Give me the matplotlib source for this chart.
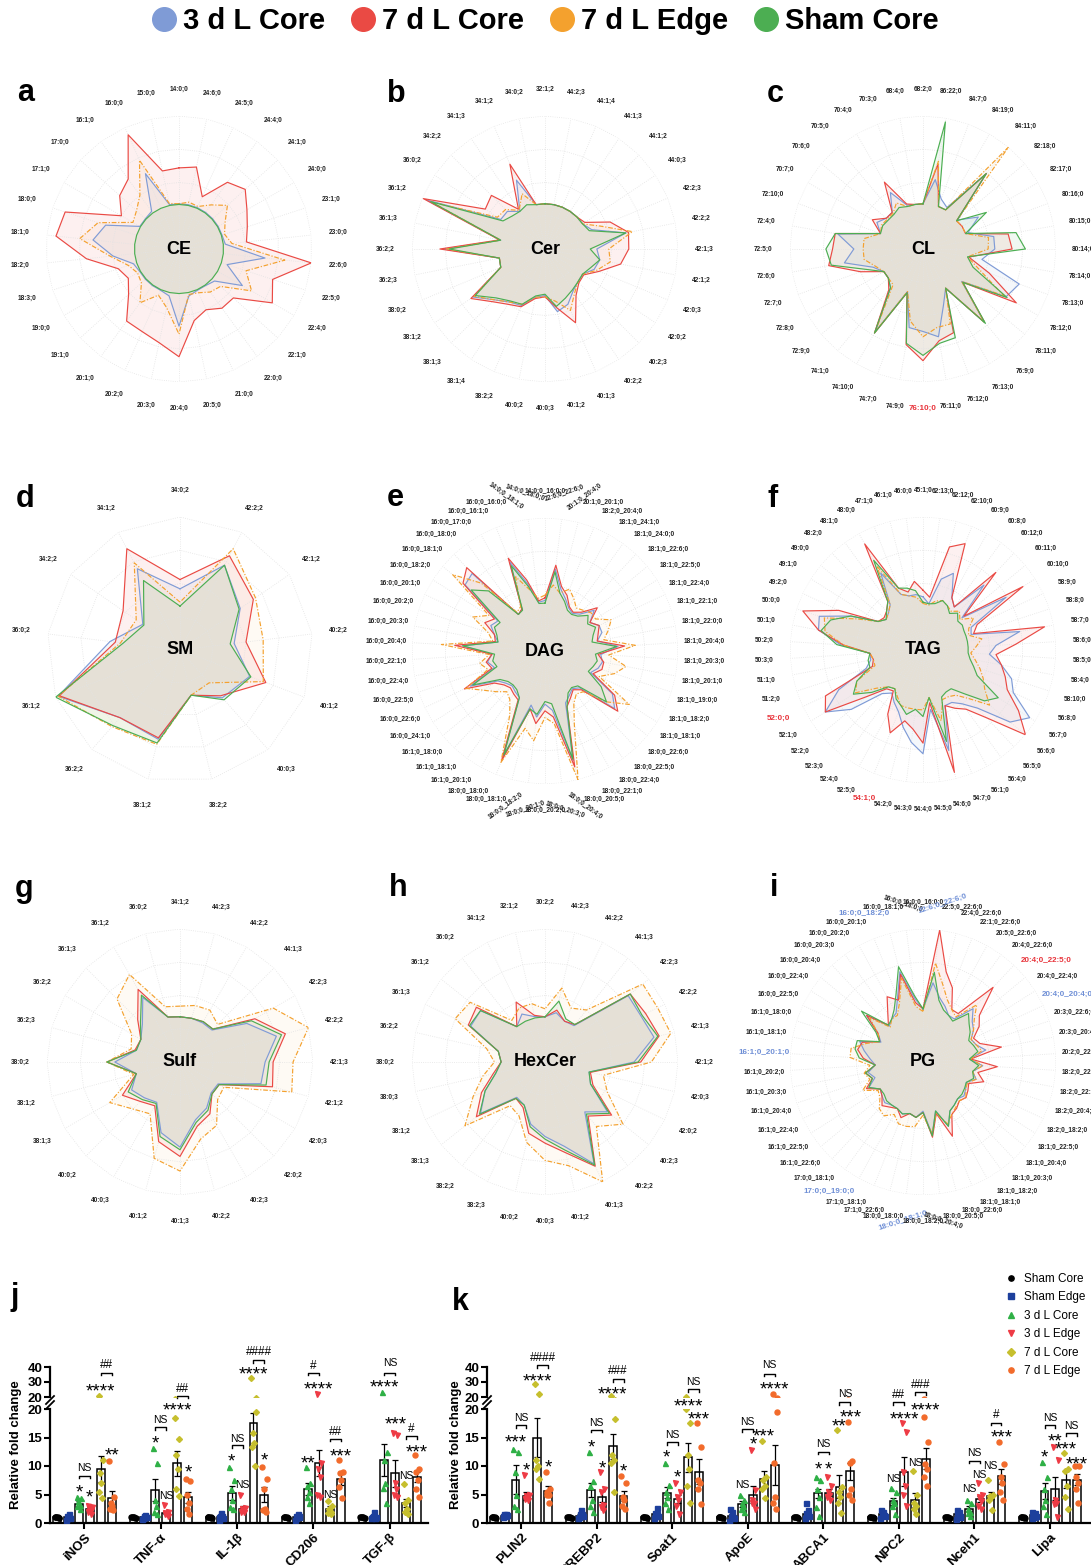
import numpy as np
import matplotlib.pyplot as plt
from matplotlib.lines import Line2D
from matplotlib.transforms import offset_copy

plt.rcParams['font.family'] = ['Liberation Sans', 'DejaVu Sans']

W, H = 1091, 1565

# ---------------- radar data ----------------
radar_names = ['3 d L Core', '7 d L Core', '7 d L Edge', 'Sham Core']
radar_colors = ['#7f9bd6', '#ea4a44', '#f4a12e', '#4cae52']
radar_styles = ['-', '-', (0, (4, 1.5, 1, 1.5)), '-']
radar_alpha = [0.08, 0.08, 0.05, 0.08]

CE_labels = ['14:0;0', '15:0;0', '16:0;0', '16:1;0', '17:0;0', '17:1;0', '18:0;0', '18:1;0', '18:2;0', '18:3;0',
             '19:0;0', '19:1;0', '20:1;0', '20:2;0', '20:3;0', '20:4;0', '20:5;0', '21:0;0', '22:0;0', '22:1;0',
             '22:4;0', '22:5;0', '22:6;0', '23:0;0', '23:1;0', '24:0;0', '24:1;0', '24:4;0', '24:5;0', '24:6;0']
CE_3dLC = [.34, .34, .62, .35, .34, .34, .58, .65, .50, .36, .34, .34, .34, .34, .36, .58, .36, .34, .34, .36,
           .55, .38, .65, .35, .34, .34, .34, .34, .34, .34]
CE_7dLC = [.61, .60, .94, .65, .60, .50, .90, .93, .70, .48, .44, .51, .67, .68, .72, .81, .55, .50, .55, .55,
           .81, .74, 1.0, .51, .54, .59, .67, .62, .43, .63]
CE_7dLE = [.34, .35, .73, .50, .43, .40, .64, .75, .52, .40, .36, .38, .50, .38, .45, .64, .35, .36, .40, .42,
           .63, .53, .80, .40, .36, .40, .49, .41, .35, .36]
CE_sham = [.335, .335, .335, .335, .335, .335, .335, .335, .335, .335, .335, .335, .335, .335, .335,
           .335, .335, .335, .335, .335, .335, .335, .335, .335, .335, .335, .335, .335, .335, .335]

Cer_labels = ['32:1;2', '34:0;2', '34:1;2', '34:1;3', '34:2;2', '36:0;2', '36:1;2', '36:1;3', '36:2;2', '36:2;3',
              '38:0;2', '38:1;2', '38:1;3', '38:1;4', '38:2;2', '40:0;2', '40:0;3', '40:1;2', '40:1;3', '40:2;2',
              '40:2;3', '42:0;2', '42:0;3', '42:1;2', '42:1;3', '42:2;2', '42:2;3', '44:0;3', '44:1;2', '44:1;3',
              '44:1;4', '44:2;3']
Cer_3dLC = [.34, .34, .56, .34, .40, .40, .96, .34, .76, .35, .36, .65, .54, .48, .46, .37, .35, .48, .45, .38,
            .35, .34, .40, .42, .39, .62, .38, .34, .34, .34, .34, .34]
Cer_7dLC = [.34, .34, .69, .36, .57, .54, .99, .35, .79, .35, .36, .67, .56, .50, .47, .38, .36, .45, .60, .42,
            .36, .35, .44, .58, .63, .64, .53, .36, .34, .34, .34, .34]
Cer_7dLE = [.34, .34, .45, .35, .42, .43, .92, .34, .74, .35, .36, .64, .54, .48, .45, .37, .36, .40, .50, .40,
            .35, .34, .42, .50, .48, .67, .45, .34, .34, .34, .34, .34]
Cer_sham = [.34, .34, .36, .34, .35, .38, .93, .34, .72, .35, .36, .63, .52, .47, .45, .36, .34, .44, .40, .37,
            .35, .34, .37, .42, .34, .62, .36, .34, .34, .34, .34, .34]

CL_labels = ['68:2;0', '68:4;0', '70:3;0', '70:4;0', '70:5;0', '70:6;0', '70:7;0', '72:10;0', '72:4;0', '72:5;0',
             '72:6;0', '72:7;0', '72:8;0', '72:9;0', '74:1;0', '74:10;0', '74:7;0', '74:9;0', '76:10;0', '76:11;0',
             '76:12;0', '76:13;0', '76:9;0', '78:11;0', '78:12;0', '78:13;0', '78:14;0', '80:14;0', '80:15;0',
             '80:16;0', '82:17;0', '82:18;0', '84:11;0', '84:19;0', '84:7;0', '86:22;0']
CL_3dLC = [.34, .34, .35, .49, .36, .36, .40, .34, .65, .52, .60, .40, .34, .34, .38, .72, .34, .60, .62, .67,
           .45, .34, .72, .38, .72, .77, .45, .54, .54, .36, .48, .34, .74, .36, .40, .53]
CL_7dLC = [.34, .34, .36, .58, .36, .36, .44, .34, .67, .68, .72, .50, .34, .34, .40, .73, .35, .73, .84, .70,
           .67, .34, .72, .39, .81, .53, .35, .67, .65, .34, .34, .33, .74, .34, .34, .65]
CL_7dLE = [.34, .34, .34, .40, .35, .35, .36, .34, .45, .45, .45, .38, .34, .34, .35, .72, .34, .55, .66, .60,
           .60, .34, .72, .38, .70, .45, .34, .49, .50, .34, .34, .33, 1.0, .34, .34, .67]
CL_sham = [.34, .34, .34, .36, .34, .34, .35, .34, .67, .73, .70, .45, .34, .34, .38, .73, .35, .72, .80, .72,
           .71, .34, .73, .39, .73, .40, .34, .77, .71, .34, .55, .33, .74, .34, .34, .97]

SM_labels = ['34:0;2', '34:1;2', '34:2;2', '36:0;2', '36:1;2', '36:2;2', '38:1;2', '38:2;2', '40:0;3', '40:1;2',
             '40:2;2', '42:1;2', '42:2;2']
SM_3dLC = [.46, .69, .34, .53, .98, .68, .69, .35, .48, .56, .41, .55, .72]
SM_7dLC = [.53, .86, .52, .49, .97, .68, .68, .35, .46, .69, .50, .67, .80]
SM_7dLE = [.36, .74, .40, .45, .98, .77, .73, .35, .33, .67, .63, .69, .86]
SM_sham = [.33, .59, .33, .43, 1.0, .76, .72, .35, .50, .57, .38, .54, .72]

DAG_labels = ['14:0;0_16:0;0', '14:0;0_18:0;0', '14:0;0_18:1;0', '16:0;0_16:0;0', '16:0;0_16:1;0',
              '16:0;0_17:0;0', '16:0;0_18:0;0', '16:0;0_18:1;0', '16:0;0_18:2;0', '16:0;0_20:1;0',
              '16:0;0_20:2;0', '16:0;0_20:3;0', '16:0;0_20:4;0', '16:0;0_22:1;0', '16:0;0_22:4;0',
              '16:0;0_22:5;0', '16:0;0_22:6;0', '16:0;0_24:1;0', '16:1;0_18:0;0', '16:1;0_18:1;0',
              '16:1;0_20:1;0', '18:0;0_18:0;0', '18:0;0_18:1;0', '18:0;0_18:2;0', '18:0;0_20:1;0',
              '18:0;0_20:2;0', '18:0;0_20:3;0', '18:0;0_20:4;0', '18:0;0_20:5;0', '18:0;0_22:1;0',
              '18:0;0_22:4;0', '18:0;0_22:5;0', '18:0;0_22:6;0', '18:1;0_18:1;0', '18:1;0_18:2;0',
              '18:1;0_19:0;0', '18:1;0_20:1;0', '18:1;0_20:3;0', '18:1;0_20:4;0', '18:1;0_22:0;0',
              '18:1;0_22:1;0', '18:1;0_22:4;0', '18:1;0_22:5;0', '18:1;0_22:6;0', '18:1;0_24:0;0',
              '18:1;0_24:1;0', '18:2;0_20:4;0', '20:1;0_20:1;0', '20:1;0_20:4;0', '22:6;0_22:6;0']
DAG_3dLC = [.38, .37, .52, .72, .36, .34, .80, .78, .42, .45, .40, .36, .62, .40, .44, .40, .62, .42, .38, .36,
            .38, .40, .85, .42, .50, .40, .45, .85, .42, .38, .35, .38, .68, .60, .38, .42, .44, .42, .55, .40,
            .45, .45, .40, .48, .38, .35, .37, .42, .48, .62]
DAG_7dLC = [.40, .38, .55, .75, .36, .34, .86, .80, .45, .50, .40, .38, .68, .40, .45, .42, .67, .45, .40, .38,
            .40, .42, .89, .45, .55, .45, .50, .90, .45, .40, .36, .40, .71, .62, .40, .45, .45, .40, .60, .40,
            .42, .45, .40, .51, .40, .36, .38, .45, .50, .65]
DAG_7dLE = [.42, .40, .48, .60, .38, .36, .70, .90, .50, .60, .45, .40, .78, .42, .50, .45, .66, .55, .48, .42,
            .45, .55, .90, .60, .68, .50, .55, 1.0, .60, .45, .40, .42, .60, .75, .45, .55, .62, .48, .68, .45,
            .50, .55, .45, .45, .42, .40, .45, .50, .45, .50]
DAG_sham = [.36, .36, .50, .69, .35, .34, .62, .72, .40, .42, .38, .36, .62, .38, .40, .38, .60, .40, .36, .35,
            .36, .40, .84, .45, .48, .38, .40, .84, .45, .36, .34, .36, .60, .50, .36, .38, .40, .38, .54, .36,
            .38, .42, .38, .42, .36, .34, .35, .40, .45, .60]

TAG_labels = ['45:1;0', '46:0;0', '46:1;0', '47:1;0', '48:0;0', '48:1;0', '48:2;0', '49:0;0', '49:1;0', '49:2;0',
              '50:0;0', '50:1;0', '50:2;0', '50:3;0', '51:1;0', '51:2;0', '52:0;0', '52:1;0', '52:2;0', '52:3;0',
              '52:4;0', '52:5;0', '54:1;0', '54:2;0', '54:3;0', '54:4;0', '54:5;0', '54:6;0', '54:7;0', '56:1;0',
              '56:4;0', '56:5;0', '56:6;0', '56:7;0', '56:8;0', '58:10;0', '58:4;0', '58:5;0', '58:6;0', '58:7;0',
              '58:8;0', '58:9;0', '60:10;0', '60:11;0', '60:12;0', '60:8;0', '60:9;0', '62:10;0', '62:12;0',
              '62:13;0']
TAG_3dLC = [.40, .42, .42, .45, .66, .42, .38, .36, .40, .60, .82, .80, .62, .40, .40, .45, .70, .87, .70, .45,
            .40, .45, .50, .60, .70, .78, .45, .78, .45, .45, .50, .60, .85, .95, .75, .70, .60, .50, .55, .74,
            .38, .40, .74, .38, .67, .40, .45, .62, .55, .35]
TAG_7dLC = [.45, .52, .45, .50, .91, .45, .40, .38, .40, .70, .95, .80, .60, .40, .38, .40, .81, .87, .55, .40,
            .38, .55, .67, .55, .60, .70, .40, .95, .45, .50, .55, .70, 1.0, .85, .70, .65, .60, .55, .70, .93,
            .40, .45, .89, .40, .80, .40, .45, .86, .80, .40]
TAG_7dLE = [.35, .40, .42, .45, .72, .42, .38, .36, .40, .55, .78, .75, .60, .40, .38, .38, .55, .60, .45, .38,
            .36, .40, .45, .45, .45, .45, .36, .55, .40, .40, .42, .50, .65, .55, .50, .45, .40, .36, .40, .45,
            .36, .38, .45, .36, .40, .36, .38, .40, .38, .34]
TAG_sham = [.36, .45, .48, .50, .77, .45, .40, .36, .40, .60, .73, .78, .65, .40, .42, .42, .55, .62, .50, .38,
            .36, .42, .45, .50, .45, .50, .36, .71, .38, .36, .36, .45, .60, .67, .45, .40, .36, .34, .34, .34,
            .34, .34, .35, .34, .38, .34, .38, .40, .36, .35]

Sulf_labels = ['34:1;2', '36:0;2', '36:1;2', '36:1;3', '36:2;2', '36:2;3', '38:0;2', '38:1;2', '38:1;3', '40:0;2',
               '40:0;3', '40:1;2', '40:1;3', '40:2;2', '40:2;3', '42:0;2', '42:0;3', '42:1;2', '42:1;3', '42:2;2',
               '42:2;3', '44:1;3', '44:2;2', '44:2;3']
Sulf_3dLC = [.34, .35, .56, .40, .34, .34, .49, .34, .42, .38, .35, .55, .64, .45, .40, .33, .33, .63, .64, .75,
             .58, .34, .34, .34]
Sulf_7dLC = [.34, .35, .63, .45, .34, .35, .55, .34, .50, .42, .38, .62, .71, .50, .45, .34, .34, .72, .70, .82,
             .65, .35, .35, .34]
Sulf_7dLE = [.42, .43, .76, .67, .42, .38, .55, .36, .61, .50, .45, .75, .82, .60, .55, .40, .38, .87, .85, 1.0,
             .81, .40, .45, .44]
Sulf_sham = [.34, .35, .58, .42, .34, .34, .55, .34, .45, .40, .36, .58, .66, .47, .42, .34, .34, .67, .67, .79,
             .62, .35, .35, .34]

Hex_labels = ['30:2;2', '32:1;2', '34:1;2', '36:0;2', '36:1;2', '36:1;3', '36:2;2', '38:0;2', '38:0;3', '38:1;2',
              '38:1;3', '38:2;2', '38:2;3', '40:0;2', '40:0;3', '40:1;2', '40:1;3', '40:2;2', '40:2;3', '42:0;2',
              '42:0;3', '42:1;2', '42:1;3', '42:2;2', '42:2;3', '44:1;3', '44:2;2', '44:2;3']
Hex_3dLC = [.34, .35, .40, .34, .62, .62, .36, .33, .38, .50, .62, .34, .36, .48, .56, .65, .85, .48, .60, .38,
            .34, .67, .84, .80, .80, .35, .34, .38]
Hex_7dLC = [.34, .36, .50, .34, .66, .64, .36, .33, .40, .53, .66, .35, .38, .55, .61, .70, .87, .52, .64, .40,
            .35, .72, .88, .84, .82, .36, .34, .40]
Hex_7dLE = [.40, .45, .45, .40, .72, .75, .45, .38, .48, .60, .77, .42, .45, .62, .74, .80, 1.0, .62, .75, .52,
            .45, .80, .97, .94, .94, .50, .45, .57]
Hex_sham = [.34, .34, .34, .34, .62, .63, .36, .33, .38, .50, .63, .35, .36, .50, .58, .68, .86, .50, .62, .38,
            .34, .70, .87, .81, .82, .36, .36, .47]

PG_labels = ['16:0;0_16:0;0', '16:0;0_18:0;0', '16:0;0_18:1;0', '16:0;0_18:2;0', '16:0;0_20:1;0',
             '16:0;0_20:2;0', '16:0;0_20:3;0', '16:0;0_20:4;0', '16:0;0_22:4;0', '16:0;0_22:5;0',
             '16:1;0_18:0;0', '16:1;0_18:1;0', '16:1;0_20:1;0', '16:1;0_20:2;0', '16:1;0_20:3;0',
             '16:1;0_20:4;0', '16:1;0_22:4;0', '16:1;0_22:5;0', '16:1;0_22:6;0', '17:0;0_18:1;0',
             '17:0;0_19:0;0', '17:1;0_18:1;0', '17:1;0_22:6;0', '18:0;0_18:0;0', '18:0;0_18:1;0',
             '18:0;0_18:2;0', '18:0;0_20:4;0', '18:0;0_20:5;0', '18:0;0_22:6;0', '18:1;0_18:1;0',
             '18:1;0_18:2;0', '18:1;0_20:3;0', '18:1;0_20:4;0', '18:1;0_22:5;0', '18:2;0_18:2;0',
             '18:2;0_20:4;0', '18:2;0_22:5;0', '18:2;0_22:6;0', '20:2;0_22:6;0', '20:3;0_20:4;0',
             '20:3;0_22:6;0', '20:4;0_20:4;0', '20:4;0_22:4;0', '20:4;0_22:5;0', '20:4;0_22:6;0',
             '20:5;0_22:6;0', '22:1;0_22:6;0', '22:4;0_22:6;0', '22:5;0_22:6;0', '22:6;0_22:6;0']
PG_3dLC = [.40, .48, .70, .52, .42, .40, .37, .55, .40, .35, .50, .45, .40, .36, .42, .38, .45, .38, .40, .42,
           .40, .40, .42, .40, .42, .37, .55, .38, .52, .42, .40, .38, .40, .38, .36, .42, .38, .45, .35, .48,
           .42, .40, .45, .48, .55, .40, .40, .45, .50, .60]
PG_7dLC = [.40, .45, .68, .50, .56, .45, .38, .55, .40, .36, .48, .50, .45, .36, .44, .40, .47, .38, .40, .45,
           .42, .40, .45, .40, .42, .38, .57, .40, .60, .45, .43, .40, .42, .40, .38, .48, .42, .56, .36, .60,
           .45, .42, .50, .55, .77, .45, .45, .60, .70, 1.0]
PG_7dLE = [.38, .42, .65, .48, .40, .40, .36, .52, .40, .36, .45, .55, .55, .40, .45, .42, .50, .40, .42, .48,
           .50, .45, .50, .50, .49, .40, .54, .40, .50, .45, .42, .40, .42, .38, .37, .42, .38, .45, .36, .45,
           .42, .40, .45, .50, .59, .42, .45, .50, .60, .75]
PG_sham = [.40, .50, .74, .55, .45, .40, .38, .60, .42, .36, .52, .52, .48, .36, .44, .40, .45, .38, .38, .40,
           .40, .40, .42, .40, .42, .38, .56, .38, .52, .42, .40, .38, .38, .37, .36, .40, .38, .42, .35, .42,
           .40, .38, .42, .45, .50, .38, .40, .42, .48, .68]

RED_LAB = '#e8333a'
BLUE_LAB = '#6f8fd6'

# ---------------- qPCR data ----------------
group_names = ['Sham Core', 'Sham Edge', '3 d L Core', '3 d L Edge', '7 d L Core', '7 d L Edge']
group_markers = ['o', 's', '^', 'v', 'D', 'o']
group_colors = ['black', '#1d3f9c', '#2fb046', '#ee3b45', '#c6bf2e', '#f26b2b']

j_genes = ['iNOS', 'TNF-α', 'IL-1β', 'CD206', 'TGF-β']
j_means = [[1.0, 1.0, 1.0, 1.0, 1.0],
           [1.0, 1.0, 1.1, 1.1, 1.1],
           [3.3, 5.8, 5.3, 6.0, 11.0],
           [2.5, 1.8, 2.4, 10.5, 8.7],
           [9.5, 10.5, 17.5, 2.4, 3.5],
           [4.3, 4.5, 5.0, 7.7, 8.1]]
j_sems = [[0.05, 0.05, 0.05, 0.05, 0.05],
          [0.15, 0.1, 0.2, 0.15, 0.2],
          [0.5, 2.0, 1.2, 1.0, 2.8],
          [0.4, 0.3, 0.5, 2.3, 2.3],
          [2.3, 2.2, 1.8, 0.5, 0.7],
          [1.3, 1.0, 1.3, 1.0, 0.9]]
j_points = [
    [[1.0, 0.9, 1.1, 1.0, 1.05, 0.95], [1.0, 0.9, 1.1, 1.0, 1.05, 0.95], [1.0, 0.9, 1.1, 1.0, 1.05, 0.95],
     [1.0, 0.9, 1.1, 1.0, 1.05, 0.95], [1.0, 0.9, 1.1, 1.0, 1.05, 0.95]],
    [[0.6, 0.9, 1.3, 1.6, 0.8, 1.1], [0.7, 1.0, 1.2, 1.4, 0.9, 1.1], [0.6, 0.9, 1.2, 1.7, 1.0, 1.3],
     [0.6, 1.0, 1.3, 1.6, 0.9, 1.2], [0.8, 1.0, 1.2, 2.0, 1.1, 0.9]],
    [[4.5, 4.3, 3.8, 3.2, 2.9, 2.5], [13.2, 10.5, 4.0, 3.0, 2.0, 1.5], [9.8, 7.5, 6.0, 4.0, 2.8, 2.5],
     [9.8, 7.0, 6.5, 5.5, 4.5, 3.5], [23.5, 12.5, 11.0, 7.0, 6.2, 3.5]],
    [[3.0, 2.8, 2.5, 2.3, 2.0, 1.5], [3.2, 2.0, 1.8, 1.5, 1.5, 1.3], [5.0, 2.6, 2.4, 2.2, 2.0, 1.9],
     [22.2, 10.5, 9.5, 8.0, 5.0, 4.5], [15.8, 15.5, 7.0, 6.0, 5.0, 4.5]],
    [[20.7, 11.0, 8.8, 7.0, 5.5, 4.4], [18.5, 14.8, 12.0, 9.5, 6.0, 4.8], [32.9, 19.5, 15.8, 14.0, 13.4, 10.0],
     [3.8, 3.0, 2.5, 2.0, 1.8, 1.5], [6.8, 4.0, 3.5, 2.5, 2.0, 1.5]],
    [[10.9, 4.6, 3.5, 3.0, 2.5, 2.3], [7.8, 7.3, 5.0, 3.5, 2.5, 1.5], [9.8, 7.7, 6.0, 2.5, 2.2, 2.0],
     [11.0, 9.0, 8.7, 7.5, 6.3, 4.3], [12.0, 9.5, 9.0, 7.5, 6.0, 4.5]]]
# (gene, bar position, y, text, 'u' = upper axis / 'l' = lower axis)
j_texts = [(0, 2, 6.2, '*', 'l'), (0, 3, 5.3, '*', 'l'), (0, 2.5, 9.6, 'NS', 'l'), (0, 4, 26.7, '****', 'u'),
           (0, 4.5, 41.1, '##', 'u'), (0, 5, 12.8, '**', 'l'),
           (1, 2, 14.9, '*', 'l'), (1, 2.5, 18.1, 'NS', 'l'), (1, 3, 4.7, 'NS', 'l'), (1, 4, 20.6, '****', 'l'),
           (1, 4.5, 25.5, '##', 'u'), (1, 5, 9.7, '*', 'l'),
           (2, 2, 11.6, '*', 'l'), (2, 2.5, 14.8, 'NS', 'l'), (2, 3, 6.7, 'NS', 'l'), (2, 4, 38.4, '****', 'u'),
           (2, 4.5, 50.2, '####', 'u'), (2, 5, 11.8, '*', 'l'),
           (3, 2, 11.3, '**', 'l'), (3, 3, 28.4, '****', 'u'), (3, 2.5, 40.5, '#', 'u'), (3, 4, 4.9, 'NS', 'l'),
           (3, 4.5, 15.9, '##', 'l'), (3, 5, 12.6, '***', 'l'),
           (4, 2, 30.0, '****', 'u'), (4, 2.5, 42.9, 'NS', 'u'), (4, 3, 18.1, '***', 'l'), (4, 4, 8.3, 'NS', 'l'),
           (4, 4.5, 16.5, '#', 'l'), (4, 5, 13.3, '***', 'l')]
# (gene, left bar, y, axis)
j_brackets = [(0, 2, 8.3, 'l'), (0, 4, 36.2, 'u'), (1, 2, 16.8, 'l'), (1, 4, 20.9, 'u'), (2, 2, 13.6, 'l'),
              (2, 4, 44.7, 'u'), (3, 2, 36.2, 'u'), (3, 4, 14.8, 'l'), (4, 2, 36.2, 'u'), (4, 4, 15.2, 'l')]

k_genes = ['PLIN2', 'SREBP2', 'Soat1', 'ApoE', 'ABCA1', 'NPC2', 'Nceh1', 'Lipa']
k_means = [[1.0, 1.0, 1.0, 1.0, 1.0, 1.0, 1.0, 1.0],
           [1.3, 1.3, 1.5, 1.3, 1.6, 1.5, 1.5, 1.4],
           [7.6, 5.8, 5.3, 3.3, 5.2, 3.8, 2.5, 5.6],
           [4.8, 4.6, 4.2, 5.0, 5.3, 9.0, 4.2, 6.0],
           [15.0, 13.5, 11.5, 7.8, 6.4, 4.0, 4.8, 7.6],
           [5.7, 4.8, 9.0, 10.2, 9.1, 11.3, 8.2, 7.6]]
k_sems = [[0.05, 0.05, 0.05, 0.05, 0.05, 0.05, 0.05, 0.05],
          [0.1, 0.2, 0.3, 0.3, 0.4, 0.2, 0.2, 0.2],
          [2.5, 1.3, 1.0, 0.5, 0.8, 0.6, 0.4, 1.4],
          [0.7, 1.0, 0.7, 1.5, 0.6, 2.5, 0.6, 2.0],
          [3.5, 2.2, 2.6, 1.4, 2.1, 1.2, 0.6, 1.5],
          [0.8, 0.9, 2.2, 3.5, 1.5, 1.8, 1.3, 1.0]]
k_points = [
    [[1.0, 0.9, 1.1, 1.0, 1.05, 0.95], [1.0, 0.9, 1.1, 1.0, 1.05, 0.95], [1.0, 0.9, 1.1, 1.0, 1.05, 0.95],
     [1.0, 0.9, 1.1, 1.0, 1.05, 0.95], [1.0, 0.9, 1.1, 1.0, 1.05, 0.95], [1.0, 0.9, 1.1, 1.0, 1.05, 0.95],
     [1.0, 0.9, 1.1, 1.0, 1.05, 0.95], [1.0, 0.9, 1.1, 1.0, 1.05, 0.95]],
    [[1.2, 1.4, 1.5, 1.3, 1.1, 1.6], [0.8, 1.2, 1.5, 2.2, 1.0, 1.6], [0.9, 1.3, 1.8, 2.6, 1.2, 1.5],
     [0.3, 0.8, 1.2, 2.0, 2.5, 1.0], [0.8, 1.2, 1.8, 2.2, 3.5, 1.5], [0.9, 1.2, 1.6, 2.0, 2.2, 1.4],
     [0.7, 1.0, 1.5, 2.0, 2.2, 1.3], [0.9, 1.2, 1.5, 1.8, 2.0, 1.1]],
    [[13.0, 12.5, 9.0, 5.0, 3.0, 2.5], [12.5, 7.3, 6.5, 4.0, 3.0, 2.0], [10.5, 6.6, 5.5, 4.5, 3.5, 2.5],
     [5.0, 4.0, 3.5, 3.0, 2.5, 2.0], [8.0, 7.5, 6.0, 4.5, 2.8, 1.2], [6.2, 5.5, 4.0, 3.5, 3.0, 1.5],
     [4.0, 3.5, 2.5, 2.0, 1.8, 1.2], [10.7, 8.0, 6.0, 4.0, 3.0, 1.5]],
    [[8.5, 5.0, 4.8, 4.5, 4.2, 4.0], [9.0, 6.0, 5.5, 3.2, 2.8, 2.3], [7.0, 5.5, 4.5, 4.0, 3.0, 1.5],
     [12.8, 5.8, 4.0, 3.5, 3.5, 2.5], [8.0, 6.5, 5.5, 5.0, 4.5, 4.0], [17.5, 16.0, 9.0, 6.5, 5.0, 3.0],
     [7.0, 5.0, 4.5, 3.8, 3.0, 2.5], [13.3, 11.0, 4.0, 3.5, 3.3, 1.0]],
    [[28.9, 22.3, 11.0, 10.0, 9.5, 7.8], [20.7, 18.2, 12.0, 11.0, 10.5, 5.5], [20.0, 17.6, 12.0, 9.5, 6.5, 3.5],
     [14.4, 8.0, 7.5, 6.5, 6.0, 4.3], [16.4, 6.3, 5.5, 4.5, 3.5, 1.7], [9.2, 5.0, 3.5, 3.0, 2.5, 1.5],
     [7.5, 5.0, 4.8, 4.5, 4.0, 2.2], [12.3, 9.5, 9.2, 6.5, 4.5, 2.5]],
    [[9.0, 6.0, 5.5, 5.0, 5.0, 3.5], [8.2, 7.0, 4.5, 4.0, 3.0, 2.5], [17.6, 13.3, 7.6, 7.0, 6.0, 3.3],
     [21.8, 19.5, 10.5, 4.5, 3.5, 2.5], [17.8, 10.8, 10.5, 6.0, 5.0, 4.0], [18.6, 14.2, 10.3, 9.5, 8.0, 6.5],
     [14.2, 10.4, 8.0, 7.0, 5.5, 4.0], [10.0, 10.0, 8.0, 7.0, 6.0, 3.5]]]
k_texts = [(0, 2, 15.0, '***', 'l'), (0, 2.5, 18.4, 'NS', 'l'), (0, 3, 10.1, '*', 'l'), (0, 4, 33.9, '****', 'u'),
           (0, 4.5, 46.1, '####', 'u'), (0, 5, 10.7, '*', 'l'),
           (1, 2, 14.2, '*', 'l'), (1, 2.5, 17.6, 'NS', 'l'), (1, 3, 10.4, '*', 'l'), (1, 4, 25.2, '****', 'u'),
           (1, 4.5, 37.0, '###', 'u'), (1, 5, 9.9, '*', 'l'),
           (2, 2, 12.4, '*', 'l'), (2, 2.5, 15.5, 'NS', 'l'), (2, 3, 8.8, '*', 'l'), (2, 4, 21.3, '****', 'l'),
           (2, 5, 19.1, '***', 'l'), (2, 4.5, 30.2, 'NS', 'u'),
           (3, 2, 6.6, 'NS', 'l'), (3, 3, 14.7, '*', 'l'), (3, 2.5, 17.8, 'NS', 'l'), (3, 4, 16.1, '***', 'l'),
           (3, 5, 28.2, '****', 'u'), (3, 4.5, 41.1, 'NS', 'u'),
           (4, 2, 10.2, '*', 'l'), (4, 3, 10.2, '*', 'l'), (4, 2.5, 13.8, 'NS', 'l'), (4, 4, 17.9, '**', 'l'),
           (4, 5, 19.4, '***', 'l'), (4, 4.5, 21.8, 'NS', 'u'),
           (5, 2, 7.8, 'NS', 'l'), (5, 3, 19.1, '****', 'l'), (5, 2.5, 21.0, '##', 'u'), (5, 4, 10.5, 'NS', 'l'),
           (5, 5, 20.6, '****', 'l'), (5, 4.5, 28.2, '###', 'u'),
           (6, 2, 5.9, 'NS', 'l'), (6, 3, 8.4, 'NS', 'l'), (6, 2.5, 12.2, 'NS', 'l'), (6, 4, 10.0, 'NS', 'l'),
           (6, 5, 15.8, '***', 'l'), (6, 4.5, 18.9, '#', 'l'),
           (7, 2, 12.4, '*', 'l'), (7, 2.5, 18.5, 'NS', 'l'), (7, 3, 15.2, '**', 'l'), (7, 4, 13.7, '***', 'l'),
           (7, 4.5, 17.1, 'NS', 'l'), (7, 5, 11.2, '***', 'l')]
k_brackets = [(0, 2, 17.2, 'l'), (0, 4, 41.1, 'u'), (1, 2, 16.4, 'l'), (1, 4, 32.0, 'u'), (2, 2, 14.2, 'l'),
              (2, 4, 25.2, 'u'), (3, 2, 16.5, 'l'), (3, 4, 35.5, 'u'), (4, 2, 12.5, 'l'), (4, 4, 21.2, 'l'),
              (5, 2, 21.2, 'l'), (5, 4, 23.4, 'u'), (6, 2, 10.9, 'l'), (6, 4, 17.6, 'l'), (7, 2, 17.2, 'l'),
              (7, 4, 15.8, 'l')]

fig = plt.figure(figsize=(W / 100, H / 100), dpi=100)


def draw_radar(cx, cy, labels, series, title, colored=None, rotated=(), rot_k=2.5):
    R = 133
    ax = fig.add_axes([(cx - R) / W, 1 - (cy + R) / H, 2 * R / W, 2 * R / H], projection='polar')
    ax.set_ylim(0, 1)
    ax.axis('off')
    n = len(labels)
    theta = np.pi / 2 + 2 * np.pi * np.arange(n) / n
    loop = np.append(theta, theta[0])
    for rr in (0.25, 0.5, 0.75, 1.0):
        ax.plot(loop, np.full(n + 1, rr), color='#e3e3e3', lw=0.6, ls=':')
    for t in theta:
        ax.plot([t, t], [0, 1], color='#e3e3e3', lw=0.6, ls=':')
    for vals, col, ls, a in zip(series, radar_colors, radar_styles, radar_alpha):
        v = np.append(vals, vals[0])
        ax.fill(loop, v, color=col, alpha=a, lw=0)
        ax.plot(loop, v, color=col, lw=0.85, ls=ls)
    colored = colored or {}
    for i, (t, lab) in enumerate(zip(theta, labels)):
        deg = np.degrees(t) % 360
        rot = 0
        if i in rotated:
            ref = 90 if deg < 180 else 270
            rot = -rot_k * (deg - ref)
        if lab in colored:
            ax.text(t, 1.2, lab, ha='center', va='center', fontsize=5.8, fontweight='bold',
                    color=colored[lab], rotation=rot, clip_on=False)
        else:
            ax.text(t, 1.2, lab, ha='center', va='center', fontsize=4.7, fontweight='bold',
                    color='#222222', rotation=rot, clip_on=False)
    ax.text(0, 0, title, ha='center', va='center', fontsize=13, fontweight='bold')


def letter(x, y, s):
    fig.text(x / W, 1 - y / H, s, fontsize=22, fontweight='bold', va='baseline', ha='left')


# ---------------- legend ----------------
handles = [Line2D([], [], marker='o', ls='', ms=17, color=c) for c in radar_colors]
fig.legend(handles, radar_names, loc='center', bbox_to_anchor=(0.5, 1 - 21 / H), ncol=4, frameon=False,
           prop={'size': 21, 'weight': 'bold'}, handletextpad=0.25, columnspacing=0.9, handlelength=0.8)

# ---------------- radars ----------------
draw_radar(179, 249, CE_labels, [CE_3dLC, CE_7dLC, CE_7dLE, CE_sham], 'CE')
draw_radar(545, 249, Cer_labels, [Cer_3dLC, Cer_7dLC, Cer_7dLE, Cer_sham], 'Cer')
draw_radar(923, 249, CL_labels, [CL_3dLC, CL_7dLC, CL_7dLE, CL_sham], 'CL', colored={'76:10;0': RED_LAB})
draw_radar(180, 650, SM_labels, [SM_3dLC, SM_7dLC, SM_7dLE, SM_sham], 'SM')
draw_radar(545, 651, DAG_labels, [DAG_3dLC, DAG_7dLC, DAG_7dLE, DAG_sham], 'DAG',
           rotated=(1, 2, 48, 49, 23, 24, 26, 27))
draw_radar(923, 650, TAG_labels, [TAG_3dLC, TAG_7dLC, TAG_7dLE, TAG_sham], 'TAG',
           colored={'52:0;0': RED_LAB, '54:1;0': RED_LAB})
draw_radar(180, 1062, Sulf_labels, [Sulf_3dLC, Sulf_7dLC, Sulf_7dLE, Sulf_sham], 'Sulf')
draw_radar(545, 1062, Hex_labels, [Hex_3dLC, Hex_7dLC, Hex_7dLE, Hex_sham], 'HexCer')
draw_radar(923, 1062, PG_labels, [PG_3dLC, PG_7dLC, PG_7dLE, PG_sham], 'PG',
           colored={'16:0;0_18:2;0': BLUE_LAB, '16:1;0_20:1;0': BLUE_LAB, '17:0;0_19:0;0': BLUE_LAB,
                    '18:0;0_18:1;0': BLUE_LAB, '20:4;0_20:4;0': BLUE_LAB, '22:6;0_22:6;0': BLUE_LAB,
                    '20:4;0_22:5;0': RED_LAB},
           rotated=(1, 49, 24, 26))

for s, x, y in [('a', 17, 101), ('b', 387, 102), ('c', 767, 102), ('d', 16, 507), ('e', 387, 506),
                ('f', 768, 507), ('g', 15, 897), ('h', 389, 896), ('i', 770, 896), ('j', 10, 1305),
                ('k', 452, 1310)]:
    letter(x, y, s)


# ---------------- bar panels ----------------
def put_text(ax, x, y, s):
    if '*' in s:
        tr = offset_copy(ax.transData, fig=fig, y=-10, units='dots')
        ax.text(x, y, s, transform=tr, ha='center', va='baseline', fontsize=13.5, clip_on=False)
    else:
        ax.text(x, y, s, ha='center', va='center', fontsize=7.5 if s == 'NS' else 8.5, clip_on=False)


def draw_bars(x0, x1, xmax, genes, means, sems, points, texts, brackets):
    low = fig.add_axes([x0 / W, 1 - 1523 / H, (x1 - x0) / W, 114 / H])
    up = fig.add_axes([x0 / W, 1 - 1397 / H, (x1 - x0) / W, 30 / H])
    for ax in (low, up):
        ax.set_xlim(-0.65, xmax)
        ax.patch.set_alpha(0)
        ax.spines[['top', 'right']].set_visible(False)
        ax.spines['left'].set_linewidth(1.6)
        ax.tick_params(axis='y', width=1.5, length=4, labelsize=9.5, pad=1.5)
    low.set_ylim(0, 20)
    low.set_yticks([0, 5, 10, 15, 20])
    up.set_ylim(20, 40)
    up.set_yticks([20, 30, 40])
    up.spines['bottom'].set_visible(False)
    up.set_xticks([])
    low.spines['bottom'].set_linewidth(1.6)
    for ax in (low, up):
        for lab in ax.get_yticklabels():
            lab.set_fontweight('bold')
    offs = [-0.2, 0.2, -0.07, 0.07, -0.13, 0.13]
    for b in range(6):
        for g in range(len(genes)):
            xc = g * 7 + b
            low.bar(xc, means[b][g], width=0.72, color='white', edgecolor='black', lw=1.1, zorder=2)
            low.errorbar(xc, means[b][g], yerr=sems[b][g], fmt='none', ecolor='black', elinewidth=0.9,
                         capsize=2.2, capthick=0.9, zorder=3)
            xs = [xc + o for o in offs]
            ms = 3.0 if group_markers[b] == 'D' else 3.6
            for ax in (low, up):
                ax.plot(xs, points[b][g], ls='', marker=group_markers[b], ms=ms, color=group_colors[b],
                        zorder=4)
    low.set_xticks([g * 7 + 2.5 for g in range(len(genes))])
    low.set_xticklabels(genes, rotation=45, ha='right', rotation_mode='anchor', fontweight='bold', fontsize=9.5)
    low.tick_params(axis='x', width=1.5, length=4, pad=2)
    for g, pos, y, s, where in texts:
        put_text(up if where == 'u' else low, g * 7 + pos, y, s)
    for g, pos, y, where in brackets:
        ax = up if where == 'u' else low
        d = 1.8 if where == 'u' else 0.45
        xl = g * 7 + pos
        ax.plot([xl, xl, xl + 1, xl + 1], [y - d, y, y, y - d], color='black', lw=1.0, clip_on=False)
    # axis break marks
    for dy in (0, 5):
        fig.add_artist(Line2D([(x0 - 4) / W, (x0 + 4) / W], [1 - (1409 - dy) / H, 1 - (1401 - dy) / H],
                              color='black', lw=1.3))
    return low, up


draw_bars(50, 428, 34.0, j_genes, j_means, j_sems, j_points, j_texts, j_brackets)
draw_bars(487, 1091, 55.3, k_genes, k_means, k_sems, k_points, k_texts, k_brackets)

for x in (16, 456):
    fig.text(x / W, 1 - 1445 / H, 'Relative fold change', rotation=90, ha='center', va='center',
             fontsize=9.5, fontweight='bold')

k_handles = [Line2D([], [], marker=m, ls='', ms=3.8, color=c) for m, c in zip(group_markers, group_colors)]
fig.legend(k_handles, group_names, loc='upper left', bbox_to_anchor=(1000 / W, 1 - 1268 / H), frameon=False,
           fontsize=8.5, handletextpad=0.6, labelspacing=0.55, handlelength=1.0, borderaxespad=0)

fig.savefig('out.png', dpi=100)
